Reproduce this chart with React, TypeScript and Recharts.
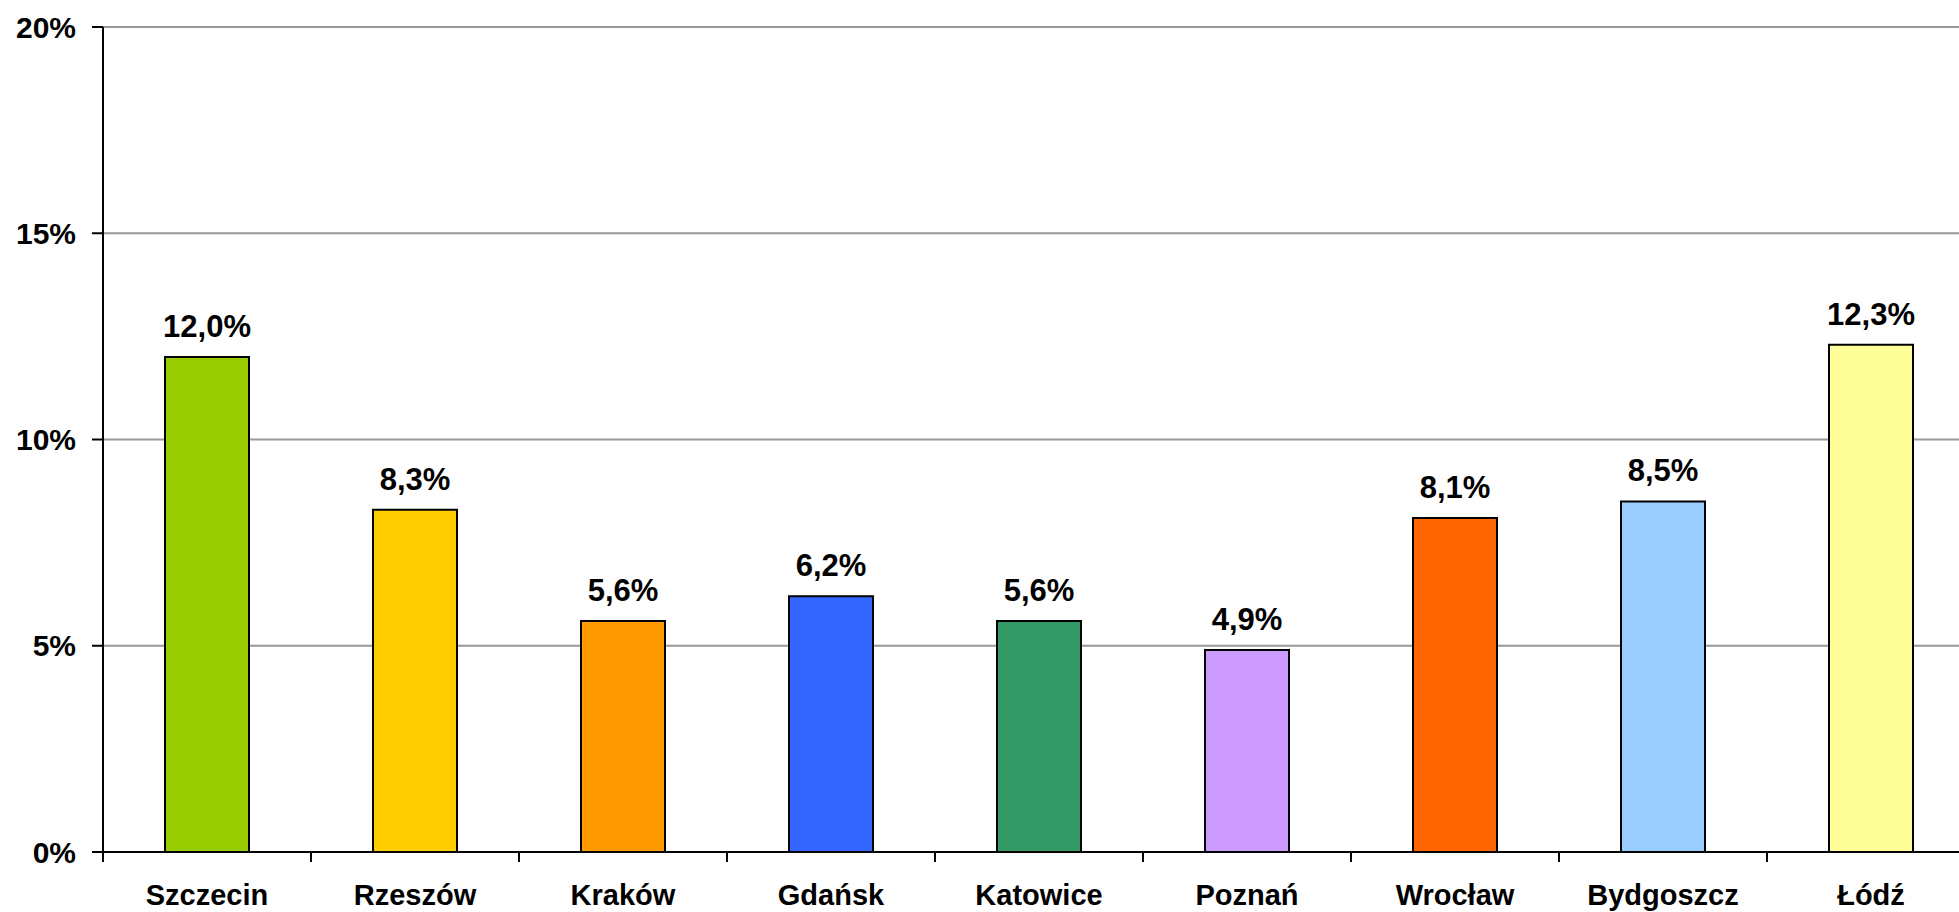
import { Bar, BarChart, CartesianGrid, Cell, LabelList, XAxis, YAxis } from "recharts";

const cities = ["Szczecin", "Rzeszów", "Kraków", "Gdańsk", "Katowice", "Poznań", "Wrocław", "Bydgoszcz", "Łódź"];
const shares = [12.0, 8.3, 5.6, 6.2, 5.6, 4.9, 8.1, 8.5, 12.3];
const barColors = ["#99CC00", "#FFCC00", "#FF9900", "#3366FF", "#339966", "#CC99FF", "#FF6600", "#99CCFF", "#FFFF99"];
const yTicks = [0, 5, 10, 15, 20];

const data = cities.map((city, i) => ({ city, share: shares[i] }));

const FONT = '"Liberation Sans", Arial, sans-serif';

const pct = (v: number) => `${v.toFixed(1).replace(".", ",")}%`;

// category label in the middle, tick mark on the left band edge (Excel style)
function CityTick(props: any) {
  const { x, y, payload } = props;
  const half = payload?.offset ?? 104;
  return (
    <g>
      <line x1={x - half} x2={x - half} y1={y} y2={y + 10} stroke="#000" strokeWidth={2} />
      <text
        x={x}
        y={y + 53}
        textAnchor="middle"
        fill="#000"
        fontFamily={FONT}
        fontWeight="bold"
        fontSize={29}
      >
        {payload.value}
      </text>
    </g>
  );
}

export default function App() {
  return (
    <div style={{ position: "absolute", left: 0, top: 0, width: 1959, height: 912, overflow: "hidden", background: "#fff" }}>
      <BarChart
        width={1980}
        height={912}
        data={data}
        margin={{ top: 27, right: 5, left: 0, bottom: 0 }}
        barSize={84}
      >
        <CartesianGrid vertical={false} stroke="#999999" strokeWidth={2} />
        <XAxis
          dataKey="city"
          height={60}
          tickLine={false}
          tickSize={0}
          tickMargin={0}
          axisLine={{ stroke: "#000", strokeWidth: 2 }}
          tick={<CityTick />}
          interval={0}
        />
        <YAxis
          width={103}
          domain={[0, 20]}
          ticks={yTicks}
          tickFormatter={(v: number) => `${v}%`}
          tickSize={11}
          tickMargin={16}
          axisLine={{ stroke: "#000", strokeWidth: 2 }}
          tickLine={{ stroke: "#000", strokeWidth: 2 }}
          tick={{ fill: "#000", fontFamily: FONT, fontWeight: "bold", fontSize: 30 }}
        />
        <Bar dataKey="share" stroke="#000" strokeWidth={2} isAnimationActive={false}>
          {data.map((d, i) => (
            <Cell key={d.city} fill={barColors[i]} />
          ))}
          <LabelList
            dataKey="share"
            position="top"
            offset={20}
            formatter={(v: any) => pct(Number(v))}
            style={{ fill: "#000", fontFamily: FONT, fontWeight: "bold", fontSize: 31 }}
          />
        </Bar>
      </BarChart>
    </div>
  );
}
